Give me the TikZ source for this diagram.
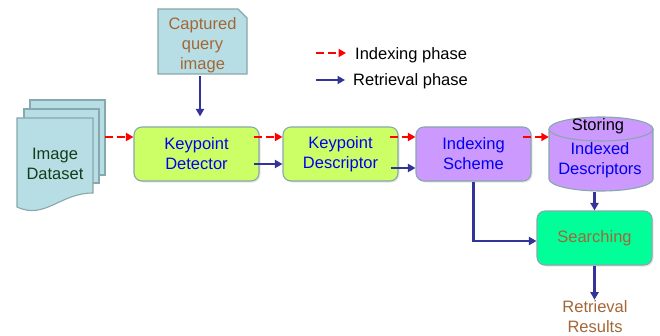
\documentclass[tikz,border=0pt]{standalone}
\usepackage{fontspec}
\setmainfont{Liberation Sans}
\usetikzlibrary{arrows.meta,shadows}

\definecolor{docblue}{RGB}{183,222,228}
\definecolor{edgegray}{RGB}{135,168,172}
\definecolor{lime}{RGB}{204,255,102}
\definecolor{lavender}{RGB}{204,153,255}
\definecolor{mint}{RGB}{0,255,153}
\definecolor{keyblue}{RGB}{0,0,240}
\definecolor{rustbrown}{RGB}{163,103,55}
\definecolor{darkgreen}{RGB}{20,60,25}
\definecolor{arrowblue}{RGB}{51,51,153}

\begin{document}
\begin{tikzpicture}[x=1pt,y=1pt,>={Triangle[length=7.5pt,width=8pt]},
  font=\fontsize{16.5}{20}\selectfont,
  sheet/.style={draw=edgegray,fill=docblue,line width=1.1pt},
  box/.style={draw=edgegray,line width=1.1pt,rounded corners=8pt,minimum height=54pt,
    align=center,text=keyblue,drop shadow={opacity=0.2,shadow xshift=1.5pt,shadow yshift=-1.5pt}},
  dbshape/.style={draw=edgegray,fill=lavender,line width=1.1pt},
  idx/.style={->,red,line width=2.8pt,dash pattern=on 8pt off 4pt},
  ret/.style={->,arrowblue,line width=2.8pt}]

\useasboundingbox (0,0) rectangle (660,335);

\draw[sheet] (30,235) rectangle (105,160);
\draw[sheet] (24,226) rectangle (99,152);
\draw[sheet] (17,217) -- (93,217) -- (93,142) .. controls (60,142) and (45,115) .. (17,128) -- cycle;
\node[text=darkgreen,align=center] (dataset) at (55,171.5) {Image\\Dataset};
\coordinate (dsout) at (105,198);

\draw[sheet] (158,326) -- (238,326) -- (247,317) -- (247,261) -- (158,261) -- cycle;
\node[text=rustbrown,align=center,inner sep=1pt] (query) at (202.5,290) {Captured\\query\\image};

\node[box,fill=lime,minimum width=125pt] (detector) at (196.5,181) {Keypoint\\Detector};
\node[box,fill=lime,minimum width=115pt] (descriptor) at (340.5,181) {Keypoint\\Descriptor};
\node[box,fill=lavender,minimum width=115pt] (indexing) at (473.5,181) {Indexing\\Scheme};

\draw[dbshape] (549,206) -- (549,156) arc[start angle=180,end angle=360,x radius=52,y radius=12]
  -- (653,206) arc[start angle=0,end angle=180,x radius=52,y radius=12] -- cycle;
\draw[dbshape,fill=none] (549,206) arc[start angle=180,end angle=360,x radius=52,y radius=12];
\node[minimum width=104pt,minimum height=74pt,inner sep=0pt] (db) at (601,181) {};
\node (storing) at (598,209) {Storing};
\node[text=keyblue,align=center] (dbtext) at (600,175) {Indexed\\Descriptors};

\node[box,fill=mint,minimum width=115pt,text=rustbrown] (searching) at (594.5,97) {Searching};
\node[text=rustbrown,align=center,inner sep=1pt] (results) at (595,18) {Retrieval\\Results};

\coordinate (lgidx) at (316,282);
\node[anchor=west,inner sep=0pt] (lgidxtext) at (355,280) {Indexing phase};
\coordinate (lgret) at (316,255);
\node[anchor=west,inner sep=0pt] (lgrettext) at (353,254) {Retrieval phase};

\draw[idx] (lgidx) -- (lgidx -| lgidxtext.west) [shorten >=9pt];
\draw[ret] (lgret) -- (lgret -| lgrettext.west) [shorten >=8pt];

\draw[idx] (dsout) -- (dsout -| detector.west);
\draw[idx] ([xshift=-6pt,yshift=17pt]detector.east) -- ([yshift=17pt]detector.east -| descriptor.west);
\draw[ret] ([xshift=-6pt,yshift=-10pt]detector.east) -- ([yshift=-10pt]detector.east -| descriptor.west);
\draw[idx] ([xshift=-9pt,yshift=17pt]descriptor.east) -- ([yshift=17pt]descriptor.east -| indexing.west);
\draw[ret] ([xshift=-8pt,yshift=-14pt]descriptor.east) -- ([yshift=-14pt]descriptor.east -| indexing.west);
\draw[idx] ([xshift=-9pt,yshift=17pt]indexing.east) -- ([yshift=17pt]indexing.east -| db.west);

\draw[ret,shorten <=2pt,shorten >=10pt] ([xshift=-2.5pt]query.south) -- ([xshift=-2.5pt]query.south |- detector.north);
\draw[ret] (indexing.south) |- ([yshift=-3pt]searching.west);
\draw[ret,shorten <=1pt] (db.south -| searching.north) -- (searching.north);
\draw[ret] (searching.south) -- (searching.south |- results.north);

\end{tikzpicture}
\end{document}
